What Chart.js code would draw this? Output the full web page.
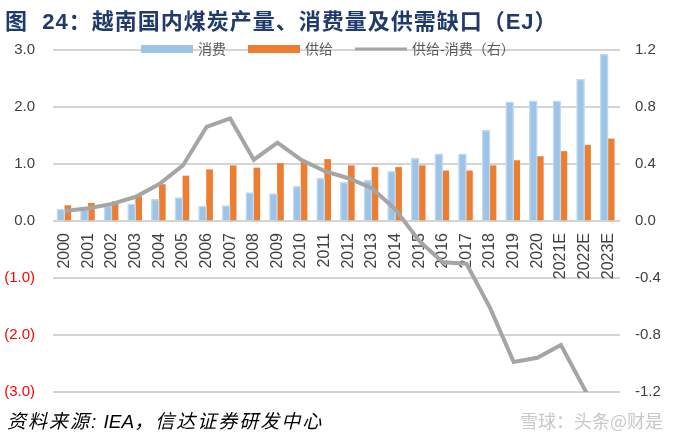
<!DOCTYPE html>
<html>
<head>
<meta charset="utf-8">
<script src="https://cdn.jsdelivr.net/npm/chart.js@4.4.1/dist/chart.umd.min.js"></script>
<style>
  body { margin: 0; background: #fff; }
  #wrap { position: relative; width: 675px; height: 436px; overflow: hidden; }
  #title {
    position: absolute; left: 5px; top: 3px;
    font: bold 22px "Liberation Sans", "Noto Sans CJK SC", sans-serif;
    color: #1F3A6B; white-space: pre; letter-spacing: 1px;
  }
  #source {
    position: absolute; left: 7px; top: 406px;
    font: italic 19px "Liberation Sans", "Noto Sans CJK SC", sans-serif;
    color: #000; white-space: nowrap; letter-spacing: 2px;
  }
  #source span { letter-spacing: 0; }
  #mark {
    position: absolute; left: 520px; top: 407px;
    font: 18px "Noto Sans CJK SC", sans-serif;
    color: #C8C8C8; white-space: nowrap;
  }
</style>
</head>
<body>
<div id="wrap">
  <canvas id="chart" width="675" height="436"></canvas>
  <div id="title">图  24：越南国内煤炭产量、消费量及供需缺口（EJ）</div>
  <div id="source">资料来源:<span> IEA</span>，信达证券研发中心</div>
  <div id="mark">雪球：头条@财是</div>
</div>
<script>
// Data (EJ)
const years = ['2000', '2001', '2002', '2003', '2004', '2005', '2006', '2007', '2008', '2009',
  '2010', '2011', '2012', '2013', '2014', '2015', '2016', '2017', '2018', '2019',
  '2020', '2021E', '2022E', '2023E'];
const consumption = [0.21, 0.21, 0.26, 0.30, 0.38, 0.41, 0.26, 0.27, 0.50, 0.48,
  0.61, 0.75, 0.68, 0.72, 0.87, 1.10, 1.18, 1.18, 1.59, 2.09,
  2.11, 2.11, 2.49, 2.93];
const supply = [0.27, 0.31, 0.34, 0.43, 0.64, 0.79, 0.90, 0.97, 0.93, 1.01,
  1.04, 1.08, 0.97, 0.94, 0.94, 0.97, 0.88, 0.88, 0.97, 1.06,
  1.13, 1.22, 1.33, 1.44];
const gap = [0.07, 0.09, 0.12, 0.17, 0.26, 0.39, 0.66, 0.72, 0.43, 0.55,
  0.43, 0.35, 0.30, 0.23, 0.08, -0.14, -0.29, -0.30, -0.61, -0.99,
  -0.96, -0.87, -1.18, -1.49];

const leftTicks = { min: -3, max: 3, step: 1 };
const rightTicks = { min: -1.2, max: 1.2, step: 0.4 };

const tickFont = { family: '"Liberation Sans", Arial, sans-serif', size: 15 };
const tickColor = '#404040';

// legend drawn over the top gridline, like the original
const topLegend = {
  id: 'topLegend',
  afterDraw(chart) {
    const ctx = chart.ctx;
    const y = chart.chartArea.top - 1;
    const items = chart.data.datasets.slice().sort((a, b) => a.legendIndex - b.legendIndex);
    let x = 141;
    ctx.save();
    ctx.font = '14px "Noto Sans CJK SC", sans-serif';
    ctx.textBaseline = 'middle';
    items.forEach(ds => {
      if (ds.type === 'line') {
        ctx.strokeStyle = ds.borderColor;
        ctx.lineWidth = 3;
        ctx.beginPath();
        ctx.moveTo(x, y);
        ctx.lineTo(x + 52, y);
        ctx.stroke();
      } else {
        ctx.fillStyle = ds.backgroundColor;
        ctx.fillRect(x, y - 4, 52, 8);
      }
      x += 57;
      ctx.fillStyle = '#595959';
      ctx.fillText(ds.label, x, y);
      x += ctx.measureText(ds.label).width + 22;
    });
    ctx.restore();
  }
};

new Chart(document.getElementById('chart'), {
  data: {
    labels: years,
    datasets: [
      {
        type: 'line',
        label: '供给-消费（右）',
        legendIndex: 2,
        data: gap,
        yAxisID: 'y1',
        borderColor: '#A5A5A5',
        borderWidth: 4,
        pointRadius: 0,
        tension: 0,
        clip: 0,
        order: 0
      },
      {
        type: 'bar',
        label: '消费',
        legendIndex: 0,
        data: consumption,
        yAxisID: 'y',
        backgroundColor: '#9DC3E6',
        borderColor: '#C2DAF0',
        borderWidth: 1.5,
        barThickness: 8,
        order: 1
      },
      {
        type: 'bar',
        label: '供给',
        legendIndex: 1,
        data: supply,
        yAxisID: 'y',
        backgroundColor: '#ED7D31',
        borderWidth: 0,
        barThickness: 6,
        order: 1
      }
    ]
  },
  options: {
    responsive: false,
    animation: false,
    devicePixelRatio: 1,
    layout: { padding: { top: 50, bottom: 44, left: 0, right: 0 } },
    plugins: {
      legend: { display: false },
      tooltip: { enabled: false }
    },
    scales: {
      x: {
        position: { y: 0 },
        grid: { display: false },
        border: { display: false },
        ticks: {
          autoSkip: false,
          minRotation: 90,
          maxRotation: 90,
          padding: 4,
          font: { family: tickFont.family, size: 16 },
          color: tickColor
        }
      },
      y: {
        position: 'left',
        min: leftTicks.min,
        max: leftTicks.max,
        afterFit: s => { s.width = 53; },
        grid: { color: '#D4D4D4', lineWidth: 2, drawTicks: false },
        border: { display: false },
        ticks: {
          stepSize: leftTicks.step,
          padding: 18,
          font: tickFont,
          color: c => c.tick.value < 0 ? '#FF0000' : tickColor,
          callback: v => v < 0 ? '(' + Math.abs(v).toFixed(1) + ')' : v.toFixed(1)
        }
      },
      y1: {
        position: 'right',
        min: rightTicks.min,
        max: rightTicks.max,
        afterFit: s => { s.width = 55; },
        grid: { display: false, drawTicks: false },
        border: { display: false },
        ticks: {
          stepSize: rightTicks.step,
          padding: 15,
          font: tickFont,
          color: tickColor,
          callback: v => Math.abs(v) < 1e-9 ? '0.0' : v.toFixed(1)
        }
      }
    }
  },
  plugins: [topLegend]
});
</script>
</body>
</html>
